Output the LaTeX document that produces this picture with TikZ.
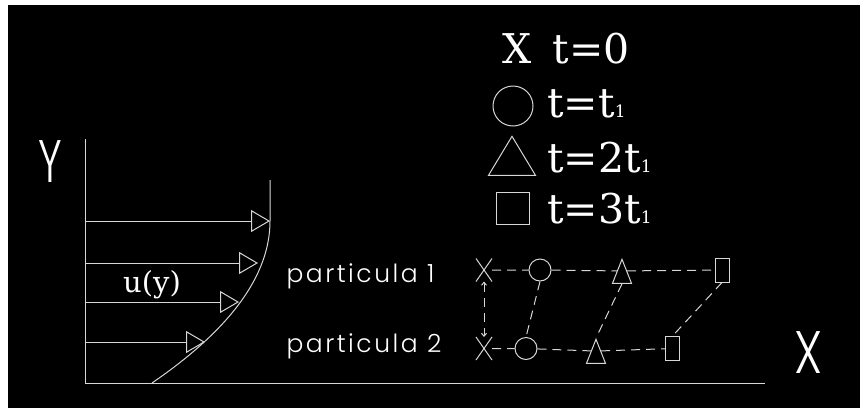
\documentclass[tikz,border=0pt]{standalone}
\usepackage{fontspec}
\usetikzlibrary{arrows.meta,shapes.geometric,shapes.misc}
\newfontfamily\cadfont{Poppins}[UprightFont={* Light},LetterSpace=10]
\newfontfamily\dvserif{DejaVu Serif}
\definecolor{cadgray}{RGB}{215,215,215}
\tikzset{
  xmark/.style={draw,cross out,minimum width=15pt,minimum height=22pt,inner sep=0pt},
  cmark/.style={draw,circle,minimum size=22pt,inner sep=0pt},
  tmark/.style={draw,isosceles triangle,shape border rotate=90,isosceles triangle stretches,
    minimum width=19pt,minimum height=24pt,inner sep=0pt,anchor=apex},
  smark/.style={draw,rectangle,minimum width=14pt,minimum height=24pt,inner sep=0pt},
  track/.style={dashed,dash pattern=on 9pt off 6pt},
  vel/.style={-{Triangle[open,length=19pt,width=22pt]}},
  legend/.style={text=white,inner sep=0pt,anchor=base west,font=\dvserif\fontsize{41}{41}\selectfont},
  cadtext/.style={text=white,inner sep=0pt,anchor=base west,font=\cadfont\fontsize{25}{25}\selectfont}
}
\newcommand{\sub}[1]{{\fontsize{17}{17}\selectfont #1}}
\begin{document}
\begin{tikzpicture}[x=1pt,y=-1pt,line width=1pt,draw=cadgray]
\useasboundingbox (0,0) rectangle (860,408);
\fill[white] (0,0) rectangle (860,408);
\fill[black] (8,5) rectangle (860,408);

\draw (85,139) -- (85,383) -- (765,383);
\draw (270,180) -- (270,221) .. controls (270,275) and (230.7,329) .. (152,383);
\foreach \y/\x in {221/270,263/258,302/239,342/205}
  \draw[vel] (85,\y) -- (\x,\y);
\node[text=white,inner sep=0pt,anchor=base,font=\dvserif\fontsize{29}{29}\selectfont] (uy) at (152,292) {u(y)};
\node[text=white,inner sep=0pt,anchor=base,font=\cadfont\fontsize{60}{60}\selectfont] (ylbl) at (50,182) {\scalebox{0.7}[1]{Y}};
\node[text=white,inner sep=0pt,anchor=base,font=\cadfont\fontsize{60}{60}\selectfont] (xlbl) at (809,373) {\scalebox{0.8}[1]{X}};

\node[legend] (l0) at (502,63) {X\hspace{8pt} t=0};
\node[cmark,minimum size=40pt] (lc) at (513,106) {};
\node[legend] (l1) at (547,117) {t=t\sub{1}};
\node[tmark,minimum width=47pt,minimum height=39pt] (lt) at (512,135) {};
\node[legend] (l2) at (547,172) {t=2t\sub{1}};
\node[smark,minimum width=33pt,minimum height=32pt] (ls) at (512.5,208) {};
\node[legend] (l3) at (547,223) {t=3t\sub{1}};

\node[cadtext] (p1) at (286,282) {particula 1};
\node[cadtext] (p2) at (286,352) {particula 2};

\node[xmark] (x1) at (484,270) {};
\node[cmark] (c1) at (540,270) {};
\node[tmark] (t1) at (622,258) {};
\node[smark] (s1) at (722,270) {};
\node[xmark] (x2) at (484,348.5) {};
\node[cmark] (c2) at (526,348.5) {};
\node[tmark] (t2) at (596,338) {};
\node[smark] (s2) at (672.5,348.5) {};

\draw[track] (x1) -- (c1) -- (t1.left side);
\draw[track] (t1.right side) -- (s1);
\draw[track] (x2) -- (c2) -- (t2.left side);
\draw[track] (t2.right side) -- (s2);
\draw[track,{Straight Barb[length=3pt,width=5pt]}-{Straight Barb[length=3pt,width=5pt]}] (x1) -- (x2);
\draw[track] (c1.south) -- (c2.north);
\draw[track] (t1.lower side) -- (t2.apex);
\draw[track] (s1.south) -- (s2.north);
\end{tikzpicture}
\end{document}
